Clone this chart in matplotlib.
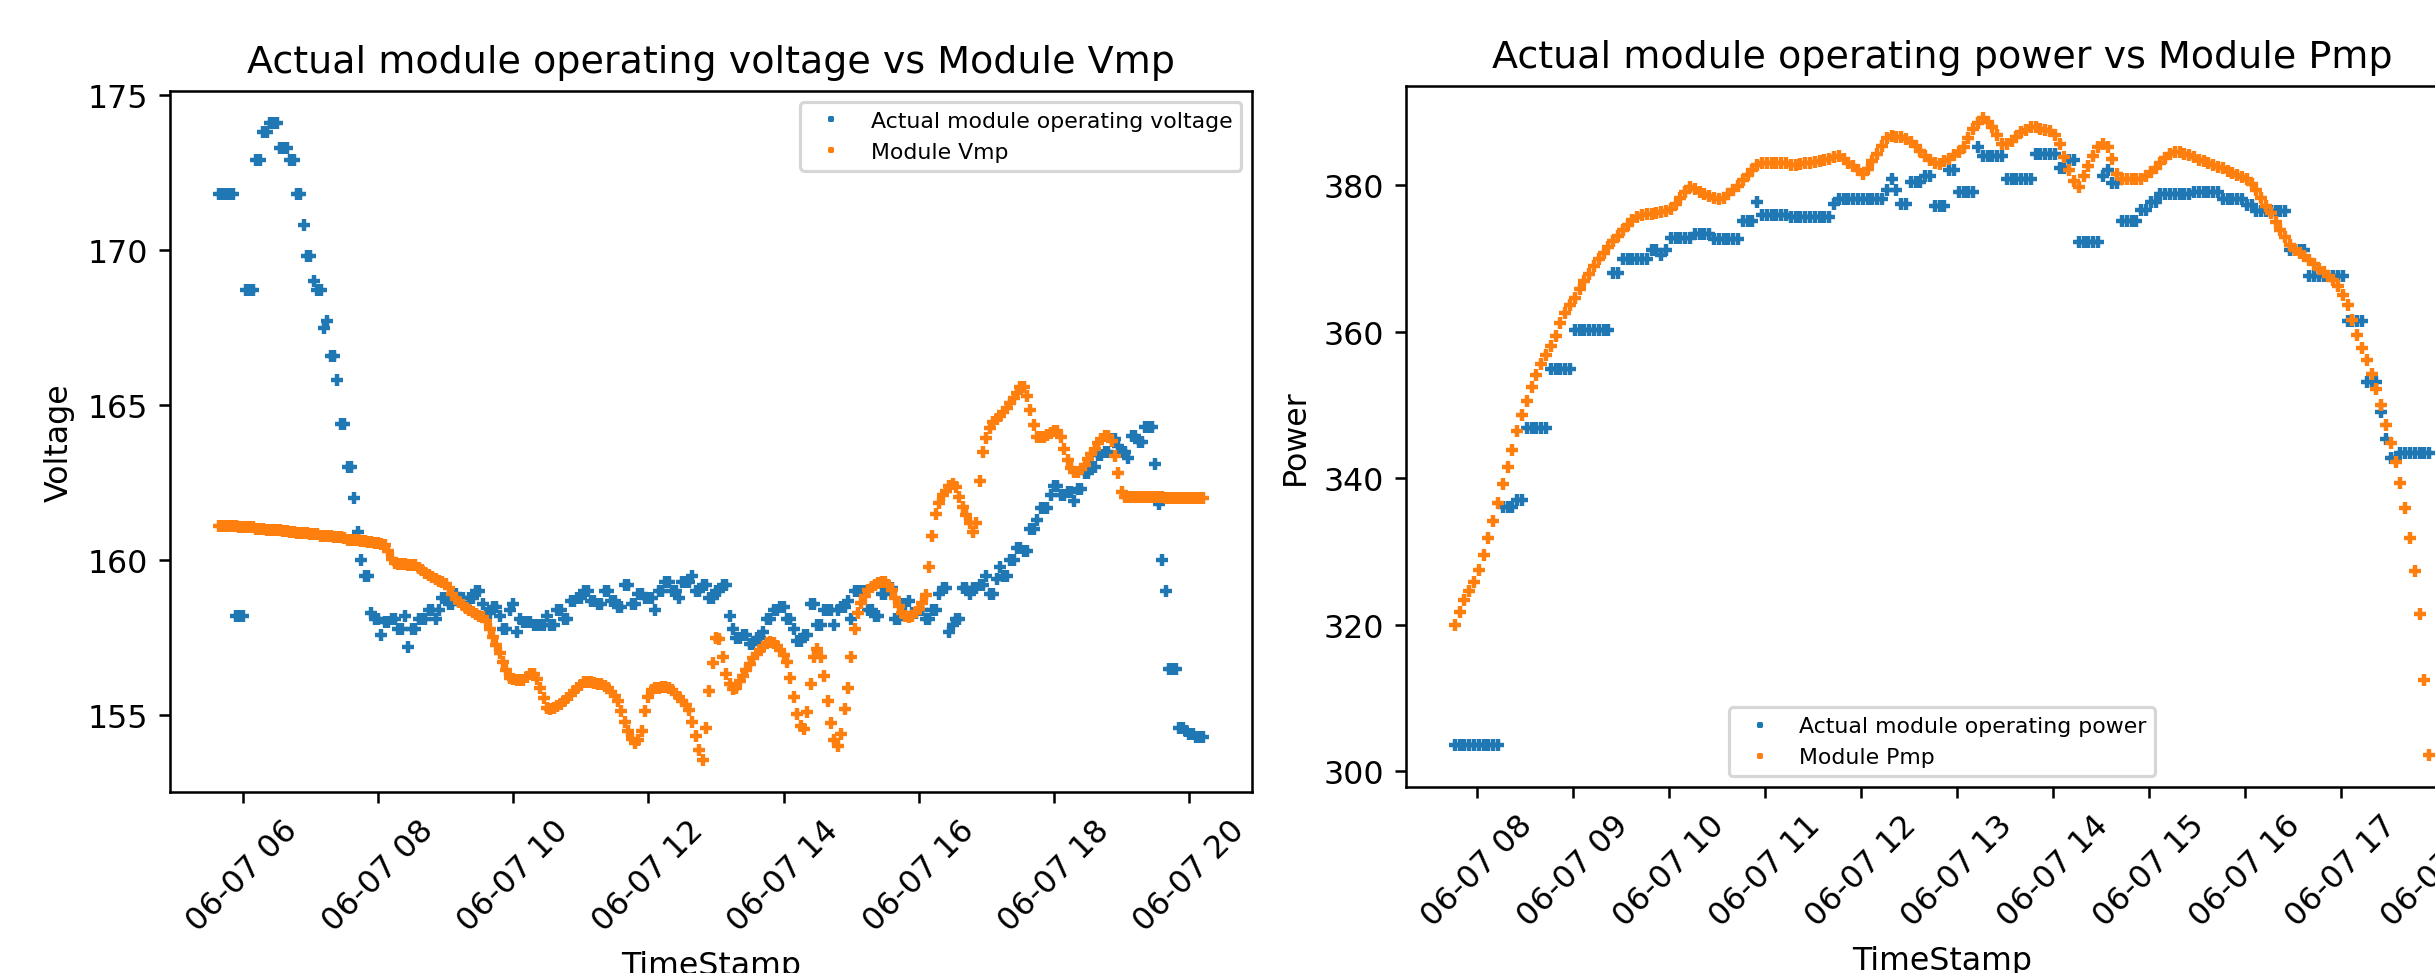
import matplotlib
matplotlib.use("Agg")
import matplotlib.pyplot as plt
import matplotlib.dates as mdates
import pandas as pd

# ---------------- data ----------------
volt_time = pd.date_range("2023-06-07 05:39", "2023-06-07 20:12", freq="3min")

actual_voltage = [
    171.8, 171.8, 171.8, 171.8, 171.8, 158.2, 158.2, 158.2, 168.7, 168.7,
    168.7, 172.9, 172.9, 173.8, 173.8, 174.1, 174.1, 174.1, 173.3, 173.3,
    173.3, 172.9, 172.9, 171.8, 171.8, 170.8, 169.8, 169.8, 169.0, 168.7,
    168.7, 167.5, 167.7, 166.6, 166.6, 165.8, 164.4, 164.4, 163.0, 163.0,
    162.0, 160.9, 160.0, 159.5, 159.5, 158.3, 158.1, 158.1, 157.6, 158.0,
    158.0, 158.1, 158.1, 157.8, 157.8, 158.2, 157.2, 157.8, 157.8, 158.1,
    158.1, 158.1, 158.4, 158.4, 158.1, 158.4, 158.8, 158.8, 158.6, 158.6,
    158.9, 158.8, 158.8, 158.5, 158.8, 158.8, 159.0, 159.0, 158.6, 158.3,
    158.3, 158.5, 158.5, 158.2, 157.8, 157.8, 158.4, 158.6, 157.7, 158.1,
    158.0, 158.0, 158.0, 157.9, 157.9, 157.9, 157.9, 158.2, 157.9, 157.9,
    158.4, 158.4, 158.1, 158.1, 158.7, 158.7, 158.8, 158.8, 159.0, 159.0,
    158.7, 158.7, 158.6, 158.6, 159.0, 159.0, 158.7, 158.7, 158.5, 158.5,
    159.2, 159.2, 158.6, 158.6, 158.9, 158.9, 158.8, 158.8, 158.8, 158.4,
    159.0, 159.0, 159.3, 159.3, 159.0, 159.0, 158.8, 159.3, 159.3, 159.3,
    159.5, 159.0, 159.0, 159.2, 159.2, 158.8, 158.8, 159.0, 159.0, 159.2,
    159.2, 158.2, 157.8, 157.5, 157.5, 157.6, 157.6, 157.3, 157.3, 157.5,
    157.5, 157.7, 158.1, 158.1, 158.4, 158.4, 158.5, 158.5, 158.1, 158.1,
    157.8, 157.4, 157.4, 157.6, 157.6, 158.6, 158.6, 157.9, 157.9, 158.4,
    158.4, 158.4, 157.9, 158.4, 158.5, 158.5, 158.7, 158.1, 159.0, 159.0,
    159.0, 159.0, 158.4, 158.4, 158.2, 158.2, 158.9, 158.9, 159.1, 159.1,
    158.1, 158.1, 158.6, 158.6, 158.7, 158.3, 158.3, 158.4, 158.4, 158.1,
    158.1, 158.4, 158.4, 158.9, 159.1, 159.1, 157.7, 157.9, 158.1, 158.1,
    159.1, 159.1, 158.9, 159.1, 159.1, 159.2, 159.2, 159.5, 158.9, 158.9,
    159.4, 159.8, 159.5, 159.5, 160.0, 160.0, 160.4, 160.4, 160.3, 160.3,
    161.0, 161.0, 161.3, 161.7, 161.7, 161.7, 162.1, 162.4, 162.4, 162.1,
    162.1, 162.2, 162.2, 161.9, 162.3, 162.3, 162.8, 162.8, 163.0, 163.0,
    163.4, 163.4, 163.5, 163.5, 163.9, 163.9, 163.7, 163.5, 163.5, 163.3,
    164.0, 164.0, 163.8, 163.8, 164.3, 164.3, 164.3, 163.1, 161.8, 160.0,
    159.0, 156.5, 156.5, 156.5, 154.6, 154.6, 154.5, 154.4, 154.4, 154.3,
    154.3, 154.3,
]

module_vmp = [
    161.11, 161.11, 161.11, 161.10, 161.10, 161.10, 161.09, 161.09, 161.08, 161.08,
    161.07, 161.01, 161.00, 161.00, 160.99, 160.99, 160.98, 160.98, 160.97, 160.96,
    160.95, 160.90, 160.90, 160.89, 160.89, 160.88, 160.87, 160.86, 160.85, 160.84,
    160.80, 160.79, 160.78, 160.77, 160.76, 160.75, 160.74, 160.72, 160.67, 160.66,
    160.65, 160.64, 160.63, 160.62, 160.60, 160.58, 160.57, 160.56, 160.54, 160.48,
    160.30, 160.05, 159.90, 159.89, 159.88, 159.87, 159.86, 159.85, 159.84, 159.76,
    159.68, 159.60, 159.53, 159.46, 159.40, 159.34, 159.29, 159.24, 159.10, 158.92,
    158.75, 158.65, 158.55, 158.47, 158.40, 158.33, 158.26, 158.22, 158.17, 158.05,
    157.80, 157.52, 157.28, 157.00, 156.71, 156.45, 156.21, 156.16, 156.14, 156.13,
    156.15, 156.25, 156.34, 156.33, 156.16, 155.90, 155.55, 155.25, 155.20, 155.25,
    155.31, 155.37, 155.47, 155.57, 155.67, 155.78, 155.88, 155.98, 156.07, 156.08,
    156.07, 156.05, 156.03, 156.00, 155.95, 155.87, 155.76, 155.62, 155.45, 155.15,
    154.78, 154.50, 154.25, 154.12, 154.20, 154.50, 155.15, 155.60, 155.82, 155.88,
    155.90, 155.92, 155.93, 155.90, 155.82, 155.70, 155.58, 155.48, 155.35, 155.18,
    154.80, 154.35, 153.90, 153.56, 154.60, 155.80, 156.70, 157.50, 157.45, 156.90,
    156.35, 156.00, 155.86, 155.90, 156.10, 156.28, 156.45, 156.65, 156.84, 156.98,
    157.10, 157.22, 157.33, 157.36, 157.33, 157.25, 157.10, 156.95, 156.71, 156.20,
    155.60, 155.05, 154.65, 154.55, 155.10, 156.00, 156.90, 157.15, 156.90, 156.28,
    155.45, 154.75, 154.20, 154.00, 154.40, 155.20, 155.90, 156.90, 157.80, 158.30,
    158.62, 158.85, 159.05, 159.15, 159.22, 159.27, 159.30, 159.30, 159.20, 159.05,
    158.80, 158.52, 158.30, 158.20, 158.16, 158.22, 158.33, 158.44, 158.62, 158.88,
    159.80, 160.80, 161.50, 161.85, 162.10, 162.25, 162.38, 162.46, 162.35, 162.05,
    161.72, 161.45, 161.20, 160.90, 161.20, 162.55, 163.50, 163.95, 164.25, 164.45,
    164.55, 164.65, 164.78, 164.92, 165.08, 165.22, 165.40, 165.60, 165.58, 165.30,
    164.85, 164.35, 163.99, 163.97, 163.98, 164.05, 164.12, 164.18, 164.18, 163.99,
    163.60, 163.22, 162.98, 162.84, 162.86, 162.93, 163.08, 163.25, 163.42, 163.60,
    163.78, 163.92, 164.00, 164.02, 163.85, 163.35, 162.80, 162.20, 162.05, 162.04,
    162.04, 162.04, 162.04, 162.03, 162.03, 162.03, 162.03, 162.03, 162.03, 162.03,
    162.02, 162.02, 162.02, 162.02, 162.02, 162.02, 162.02, 162.02, 162.02, 162.02,
    162.02, 162.02,
]

power_time = pd.date_range("2023-06-07 07:46", "2023-06-07 17:55", freq="3min")

actual_power = [
    303.6, 303.6, 303.6, 303.6, 303.6, 303.6, 303.6, 303.6, 303.6, 303.6,
    336.1, 336.1, 336.1, 337.0, 337.0, 346.8, 346.8, 346.8, 346.8, 346.8,
    354.9, 354.9, 354.9, 354.9, 354.9, 360.2, 360.2, 360.2, 360.2, 360.2,
    360.2, 360.2, 360.2, 368.0, 368.0, 369.9, 369.9, 369.9, 369.9, 369.9,
    369.9, 371.1, 371.1, 370.5, 371.1, 372.8, 372.8, 372.8, 372.8, 372.8,
    373.4, 373.4, 373.4, 373.4, 372.6, 372.6, 372.6, 372.6, 372.6, 372.6,
    375.1, 375.1, 375.1, 377.7, 376.0, 376.0, 376.0, 376.0, 376.0, 376.0,
    375.6, 375.6, 375.6, 375.6, 375.6, 375.6, 375.6, 375.6, 375.6, 377.5,
    378.1, 378.1, 378.1, 378.1, 378.1, 378.1, 378.1, 378.1, 378.1, 378.1,
    379.4, 380.9, 379.4, 377.5, 377.5, 380.4, 380.4, 380.4, 381.2, 381.2,
    377.2, 377.2, 377.2, 382.1, 382.1, 379.1, 379.1, 379.1, 379.1, 385.2,
    384.0, 384.0, 384.0, 384.0, 384.0, 380.8, 380.8, 380.8, 380.8, 380.8,
    380.8, 384.3, 384.3, 384.3, 384.3, 384.3, 382.4, 382.4, 383.5, 383.5,
    372.2, 372.2, 372.2, 372.2, 372.2, 381.2, 382.1, 380.3, 380.3, 375.1,
    375.1, 375.1, 375.1, 376.6, 376.6, 377.7, 377.7, 378.8, 378.8, 378.8,
    378.8, 378.8, 378.8, 378.8, 379.1, 379.1, 379.1, 379.1, 379.1, 379.1,
    378.1, 378.1, 378.1, 378.1, 378.1, 377.3, 377.3, 376.5, 376.5, 376.5,
    376.5, 376.5, 376.5, 376.5, 371.1, 371.1, 371.1, 371.1, 367.6, 367.6,
    367.6, 367.6, 367.6, 367.6, 367.6, 367.6, 361.4, 361.4, 361.4, 361.4,
    353.2, 353.2, 353.2, 349.0, 345.3, 342.7, 342.7, 343.5, 343.5, 343.5,
    343.5, 343.5, 343.5, 343.5,
]

module_pmp = [
    320.0, 321.8, 323.4, 324.6, 325.8, 327.5, 329.5, 331.8, 334.2, 336.6,
    339.2, 341.6, 343.9, 346.4, 348.6, 350.6, 352.4, 354.1, 355.6, 356.8,
    358.0, 359.4, 361.2, 362.5, 363.6, 364.6, 365.8, 366.9, 367.9, 369.0,
    370.0, 370.8, 371.6, 372.4, 373.1, 373.9, 374.6, 375.2, 375.6, 376.0,
    376.1, 376.1, 376.2, 376.3, 376.5, 376.8, 377.5, 378.3, 379.1, 379.7,
    379.5, 379.1, 378.8, 378.5, 378.3, 378.1, 378.3, 378.8, 379.3, 379.9,
    380.7, 381.4, 382.1, 382.8, 383.1, 383.1, 383.1, 383.1, 383.1, 383.0,
    382.7, 382.8, 382.9, 383.0, 383.1, 383.2, 383.3, 383.4, 383.6, 383.8,
    384.0, 383.6, 383.1, 382.6, 382.1, 381.6, 382.2, 383.3, 384.3, 385.3,
    386.4, 386.7, 386.6, 386.6, 386.3, 385.9, 385.4, 384.7, 384.0, 383.5,
    383.1, 382.9, 383.3, 383.6, 384.1, 384.6, 385.2, 386.4, 387.7, 388.5,
    389.2, 388.6, 387.9, 386.8, 385.7, 385.7, 386.1, 386.6, 387.3, 387.6,
    388.0, 387.9, 387.7, 387.6, 387.4, 386.9, 385.6, 383.9, 382.1, 380.6,
    379.8, 381.2, 382.6, 384.0, 385.2, 385.7, 385.2, 383.6, 381.6, 380.9,
    380.8, 380.8, 380.9, 380.9, 381.3, 381.8, 382.3, 383.0, 383.7, 384.2,
    384.6, 384.6, 384.3, 384.1, 383.8, 383.5, 383.3, 383.0, 382.8, 382.5,
    382.3, 382.0, 381.7, 381.4, 381.1, 380.8, 380.2, 379.3, 378.2, 377.2,
    376.2, 375.0, 373.9, 372.9, 371.8, 371.1, 370.7, 370.3, 369.8, 369.2,
    368.6, 368.1, 367.6, 367.1, 366.2, 365.0, 363.6, 361.6, 359.5, 357.8,
    356.1, 354.3, 352.2, 350.0, 347.3, 344.8, 342.2, 339.3, 336.0, 331.8,
    327.3, 321.5, 312.4, 302.2,
]

# ---------------- figure ----------------
DPI = 228
W, H = 2435, 974
fig = plt.figure(figsize=(W / DPI, H / DPI), dpi=DPI)

ax1 = fig.add_axes([170 / W, (H - 793) / H, (1252 - 170) / W, 701 / H])
ax2 = fig.add_axes([1406 / W, (H - 788) / H, (2478 - 1406) / W, 701 / H])

mk = dict(linestyle="none", marker="+", markersize=3.6, markeredgewidth=1.4)

ax1.plot(volt_time, actual_voltage, color="#1f77b4",
         label="Actual module operating voltage", **mk)
ax1.plot(volt_time, module_vmp, color="#ff7f0e", label="Module Vmp", **mk)
ax1.set_title("Actual module operating voltage vs Module Vmp")
ax1.set_xlabel("TimeStamp")
ax1.set_ylabel("Voltage")
ax1.xaxis.set_major_locator(mdates.HourLocator(interval=2))
ax1.xaxis.set_major_formatter(mdates.DateFormatter("%m-%d %H"))
ax1.tick_params(axis="x", labelrotation=45)
ax1.legend(loc="upper right", fontsize="x-small", markerscale=0.6)

ax2.plot(power_time, actual_power, color="#1f77b4",
         label="Actual module operating power", **mk)
ax2.plot(power_time, module_pmp, color="#ff7f0e", label="Module Pmp", **mk)
ax2.set_title("Actual module operating power vs Module Pmp")
ax2.set_xlabel("TimeStamp")
ax2.set_ylabel("Power")
ax2.xaxis.set_major_locator(mdates.HourLocator(interval=1))
ax2.xaxis.set_major_formatter(mdates.DateFormatter("%m-%d %H"))
ax2.tick_params(axis="x", labelrotation=45)
ax2.legend(loc="lower center", fontsize="x-small", markerscale=0.6)

fig.savefig("out.png", dpi=DPI)
